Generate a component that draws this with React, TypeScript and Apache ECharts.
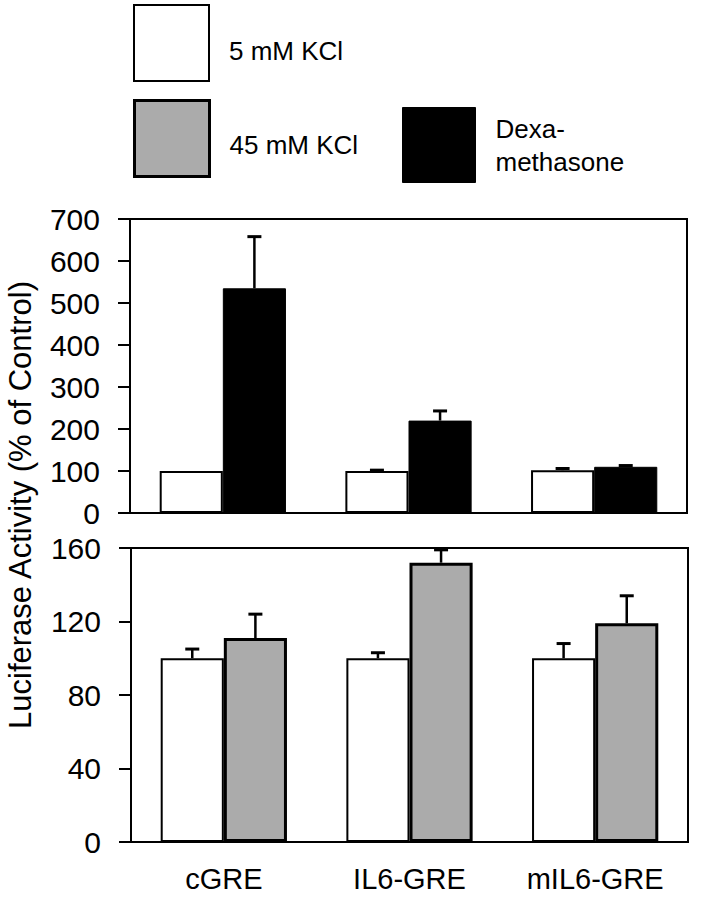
import React, { useEffect, useRef } from "react";
import * as echarts from "echarts";

const categories = ["cGRE", "IL6-GRE", "mIL6-GRE"];
const topTicks = [0, 100, 200, 300, 400, 500, 600, 700];
const bottomTicks = [0, 40, 80, 120, 160];

// Top panel: 5 mM KCl (white) vs Dexamethasone (black)
const topWhite = [100, 100, 102];
const topWhiteErr = [0, 2, 4];
const topBlack = [535, 220, 110];
const topBlackErr = [123, 23, 3];

// Bottom panel: 5 mM KCl (white) vs 45 mM KCl (gray)
const bottomWhite = [100, 100, 100];
const bottomWhiteErr = [5, 3, 8];
const bottomGray = [111, 152, 119];
const bottomGrayErr = [13, 7, 15];

const FONT = "Liberation Sans, Arial, Helvetica, sans-serif";
const BAR_CAT_GAP = 0.32;

function errData(vals: number[], errs: number[], side: number) {
  return vals.map((v, i) => [i, v, errs[i], side]);
}

function renderErr(params: any, api: any) {
  const cat = api.value(0);
  const v = api.value(1);
  const e = api.value(2);
  const side = api.value(3);
  if (!e) return null;
  const base = api.coord([cat, v]);
  const top = api.coord([cat, v + e]);
  const bw = (api.size([1, 0])[0] * (1 - BAR_CAT_GAP)) / 2;
  const x = base[0] + (side * bw) / 2;
  return {
    type: "group",
    children: [
      {
        type: "line",
        shape: { x1: x, y1: base[1], x2: x, y2: top[1] },
        style: { stroke: "#000", lineWidth: 2.5 },
      },
      {
        type: "line",
        shape: { x1: x - 7, y1: top[1], x2: x + 7, y2: top[1] },
        style: { stroke: "#000", lineWidth: 3 },
      },
    ],
  };
}

export default function App() {
  const ref = useRef<HTMLDivElement>(null);
  useEffect(() => {
    if (!ref.current) return;
    const chart = echarts.init(ref.current, null, { renderer: "svg" });
    const yAxisCommon = {
      type: "value",
      axisLine: { show: true, lineStyle: { color: "#000", width: 2 } },
      axisTick: { show: true, length: 12, lineStyle: { color: "#000", width: 2 } },
      splitLine: { show: false },
      axisLabel: { color: "#000", fontSize: 30, fontFamily: FONT, margin: 30 },
    };
    const xAxisCommon = {
      type: "category",
      data: categories,
      axisLine: { show: true, lineStyle: { color: "#000", width: 2 } },
      axisTick: { show: false },
    };
    const white = { color: "#ffffff", borderColor: "#000", borderWidth: 2 };
    const gray = { color: "#ababab", borderColor: "#000", borderWidth: 3 };
    const black = { color: "#000000", borderColor: "#000", borderWidth: 1 };
    const legendCommon = {
      orient: "vertical",
      icon: "rect",
      itemWidth: 75,
      itemHeight: 76,
      padding: 0,
      selectedMode: false,
    };
    const legendText = { color: "#000", fontSize: 26, fontFamily: FONT };
    chart.setOption({
      animation: false,
      backgroundColor: "#fff",
      legend: [
        {
          ...legendCommon,
          left: 133,
          top: 4,
          data: [{ name: "5 mM KCl", itemStyle: white }],
          formatter: (n: string) => "\n" + n,
          textStyle: { ...legendText, lineHeight: 16, padding: [0, 0, 0, 15] },
        },
        {
          ...legendCommon,
          left: 133,
          top: 99,
          data: [{ name: "45 mM KCl", itemStyle: gray }],
          formatter: (n: string) => "\n" + n,
          textStyle: { ...legendText, lineHeight: 12, padding: [0, 0, 0, 15] },
        },
        {
          ...legendCommon,
          left: 402,
          top: 103,
          itemWidth: 73,
          itemHeight: 75,
          data: [{ name: "Dexamethasone", itemStyle: black }],
          formatter: () => "Dexa-\nmethasone",
          textStyle: { ...legendText, lineHeight: 33, padding: [18, 0, 0, 15] },
        },
      ],
      grid: [
        { left: 130, right: 26, top: 219, height: 294, show: true, borderColor: "#000", borderWidth: 2, backgroundColor: "transparent" },
        { left: 131, right: 25, top: 548, height: 294, show: true, borderColor: "#000", borderWidth: 2, backgroundColor: "transparent" },
      ],
      xAxis: [
        { ...xAxisCommon, gridIndex: 0, axisLabel: { show: false } },
        {
          ...xAxisCommon,
          gridIndex: 1,
          axisLabel: { color: "#000", fontSize: 29, fontFamily: FONT, margin: 22 },
        },
      ],
      yAxis: [
        { ...yAxisCommon, gridIndex: 0, min: topTicks[0], max: topTicks[topTicks.length - 1], interval: topTicks[1] - topTicks[0] },
        { ...yAxisCommon, gridIndex: 1, min: bottomTicks[0], max: bottomTicks[bottomTicks.length - 1], interval: bottomTicks[1] - bottomTicks[0] },
      ],
      graphic: [
        {
          type: "text",
          x: 20,
          y: 505,
          rotation: Math.PI / 2,
          style: {
            text: "Luciferase Activity (% of Control)",
            font: `31px ${FONT}`,
            fill: "#000",
            textAlign: "center",
            textVerticalAlign: "middle",
          },
        },
      ],
      series: [
        {
          type: "bar",
          name: "5 mM KCl",
          xAxisIndex: 0,
          yAxisIndex: 0,
          data: topWhite,
          itemStyle: white,
          barGap: "0%",
          barCategoryGap: "32%",
        },
        {
          type: "bar",
          name: "Dexamethasone",
          xAxisIndex: 0,
          yAxisIndex: 0,
          data: topBlack,
          itemStyle: black,
          barGap: "0%",
          barCategoryGap: "32%",
        },
        {
          type: "bar",
          name: "5 mM KCl",
          xAxisIndex: 1,
          yAxisIndex: 1,
          data: bottomWhite,
          itemStyle: white,
          barGap: "0%",
          barCategoryGap: "32%",
        },
        {
          type: "bar",
          name: "45 mM KCl",
          xAxisIndex: 1,
          yAxisIndex: 1,
          data: bottomGray,
          itemStyle: gray,
          barGap: "0%",
          barCategoryGap: "32%",
        },
        {
          type: "custom",
          name: "errTop",
          xAxisIndex: 0,
          yAxisIndex: 0,
          renderItem: renderErr,
          encode: { x: 0, y: 1 },
          data: [...errData(topWhite, topWhiteErr, -1), ...errData(topBlack, topBlackErr, 1)],
          z: 3,
        },
        {
          type: "custom",
          name: "errBottom",
          xAxisIndex: 1,
          yAxisIndex: 1,
          renderItem: renderErr,
          encode: { x: 0, y: 1 },
          data: [...errData(bottomWhite, bottomWhiteErr, -1), ...errData(bottomGray, bottomGrayErr, 1)],
          z: 3,
        },
      ],
    });
    return () => chart.dispose();
  }, []);
  return <div ref={ref} style={{ width: 713, height: 899, position: "absolute", left: 0, top: 0 }} />;
}
